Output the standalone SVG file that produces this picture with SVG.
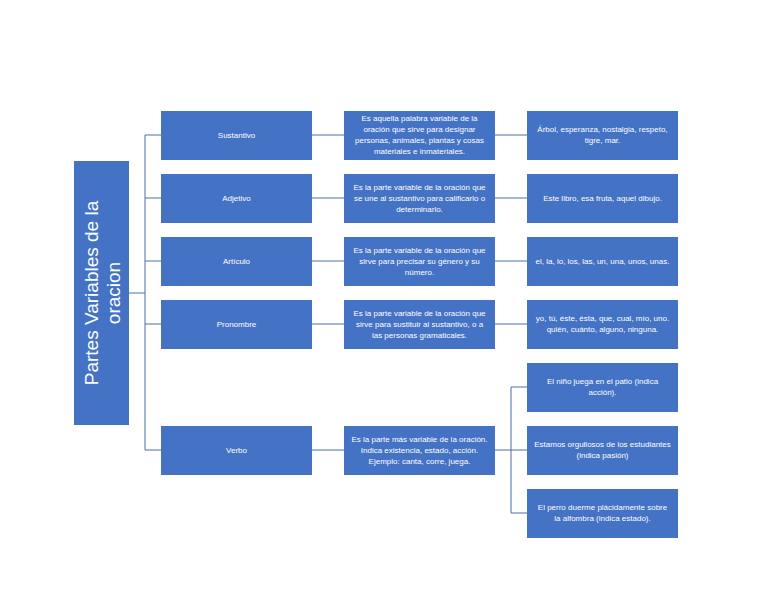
<svg xmlns="http://www.w3.org/2000/svg" width="768" height="594" viewBox="0 0 768 594">
<style>
.b{fill:#4472c4}
.t{fill:#fff;font-family:"Liberation Sans",Arial,sans-serif;font-size:8px;text-anchor:middle}
.c{fill:none;stroke:#4a6fa5;stroke-width:1}
</style>
<rect width="768" height="594" fill="#fff"/>
<g id="connectors">
<path class="c" d="M129 293H145M145 135V450M145 135H161M145 198H161M145 261H161M145 324H161M145 450H161"/>
<path class="c" d="M312 135H344M312 198H344M312 261H344M312 324H344M312 450H344"/>
<path class="c" d="M495 135H527M495 198H527M495 261H527M495 324H527"/>
<path class="c" d="M495 450H511M511 387V513M511 387H527M511 450H527M511 513H527"/>
</g>
<g id="root"><rect class="b" x="74" y="161" width="55" height="264"/>
<text class="t" style="font-size:19px" transform="translate(101.5 293) rotate(-90)"><tspan x="0" y="-4">Partes Variables de la</tspan><tspan x="0" y="18">oracion</tspan></text></g>
<g id="n1"><rect class="b" x="161" y="111" width="151" height="49"/><text class="t" x="236.5" y="138">Sustantivo</text></g>
<g id="n2"><rect class="b" x="161" y="174" width="151" height="49"/><text class="t" x="236.5" y="201">Adjetivo</text></g>
<g id="n3"><rect class="b" x="161" y="237" width="151" height="49"/><text class="t" x="236.5" y="264">Artículo</text></g>
<g id="n4"><rect class="b" x="161" y="300" width="151" height="49"/><text class="t" x="236.5" y="327">Pronombre</text></g>
<g id="n5"><rect class="b" x="161" y="426" width="151" height="49"/><text class="t" x="236.5" y="453">Verbo</text></g>
<g id="d1"><rect class="b" x="344" y="111" width="151" height="49"/><text class="t" x="419.5" y="121"><tspan x="419.5">Es aquella palabra variable de la</tspan><tspan x="419.5" dy="11">oración que sirve para designar</tspan><tspan x="419.5" dy="11">personas, animales, plantas y cosas</tspan><tspan x="419.5" dy="11">materiales e inmateriales.</tspan></text></g>
<g id="d2"><rect class="b" x="344" y="174" width="151" height="49"/><text class="t" x="419.5" y="190"><tspan x="419.5">Es la parte variable de la oración que</tspan><tspan x="419.5" dy="11">se une al sustantivo para calificarlo o</tspan><tspan x="419.5" dy="11">determinarlo.</tspan></text></g>
<g id="d3"><rect class="b" x="344" y="237" width="151" height="49"/><text class="t" x="419.5" y="253"><tspan x="419.5">Es la parte variable de la oración que</tspan><tspan x="419.5" dy="11">sirve para precisar su género y su</tspan><tspan x="419.5" dy="11">número.</tspan></text></g>
<g id="d4"><rect class="b" x="344" y="300" width="151" height="49"/><text class="t" x="419.5" y="316"><tspan x="419.5">Es la parte variable de la oración que</tspan><tspan x="419.5" dy="11">sirve para sustituir al sustantivo, o a</tspan><tspan x="419.5" dy="11">las personas gramaticales.</tspan></text></g>
<g id="d5"><rect class="b" x="344" y="426" width="151" height="49"/><text class="t" x="419.5" y="442"><tspan x="419.5">Es la parte más variable de la oración.</tspan><tspan x="419.5" dy="11">Indica existencia, estado, acción.</tspan><tspan x="419.5" dy="11">Ejemplo: canta, corre, juega.</tspan></text></g>
<g id="e1"><rect class="b" x="527" y="111" width="151" height="49"/><text class="t" x="602.5" y="132"><tspan x="602.5">Árbol, esperanza, nostalgia, respeto,</tspan><tspan x="602.5" dy="11">tigre, mar.</tspan></text></g>
<g id="e2"><rect class="b" x="527" y="174" width="151" height="49"/><text class="t" x="602.5" y="201">Este libro, esa fruta, aquel dibujo.</text></g>
<g id="e3"><rect class="b" x="527" y="237" width="151" height="49"/><text class="t" x="602.5" y="264">el, la, lo, los, las, un, una, unos, unas.</text></g>
<g id="e4"><rect class="b" x="527" y="300" width="151" height="49"/><text class="t" x="602.5" y="321"><tspan x="602.5">yo, tú, éste, ésta, que, cual, mío,  uno.</tspan><tspan x="602.5" dy="11">quién, cuánto, alguno, ninguna.</tspan></text></g>
<g id="e5"><rect class="b" x="527" y="363" width="151" height="49"/><text class="t" x="602.5" y="384"><tspan x="602.5">El niño juega en el patio (indica</tspan><tspan x="602.5" dy="11">acción).</tspan></text></g>
<g id="e6"><rect class="b" x="527" y="426" width="151" height="49"/><text class="t" x="602.5" y="447"><tspan x="602.5">Estamos orgullosos de los estudiantes</tspan><tspan x="602.5" dy="11">(indica pasión)</tspan></text></g>
<g id="e7"><rect class="b" x="527" y="489" width="151" height="49"/><text class="t" x="602.5" y="510"><tspan x="602.5">El perro duerme plácidamente sobre</tspan><tspan x="602.5" dy="11">la alfombra (indica estado).</tspan></text></g>
</svg>
